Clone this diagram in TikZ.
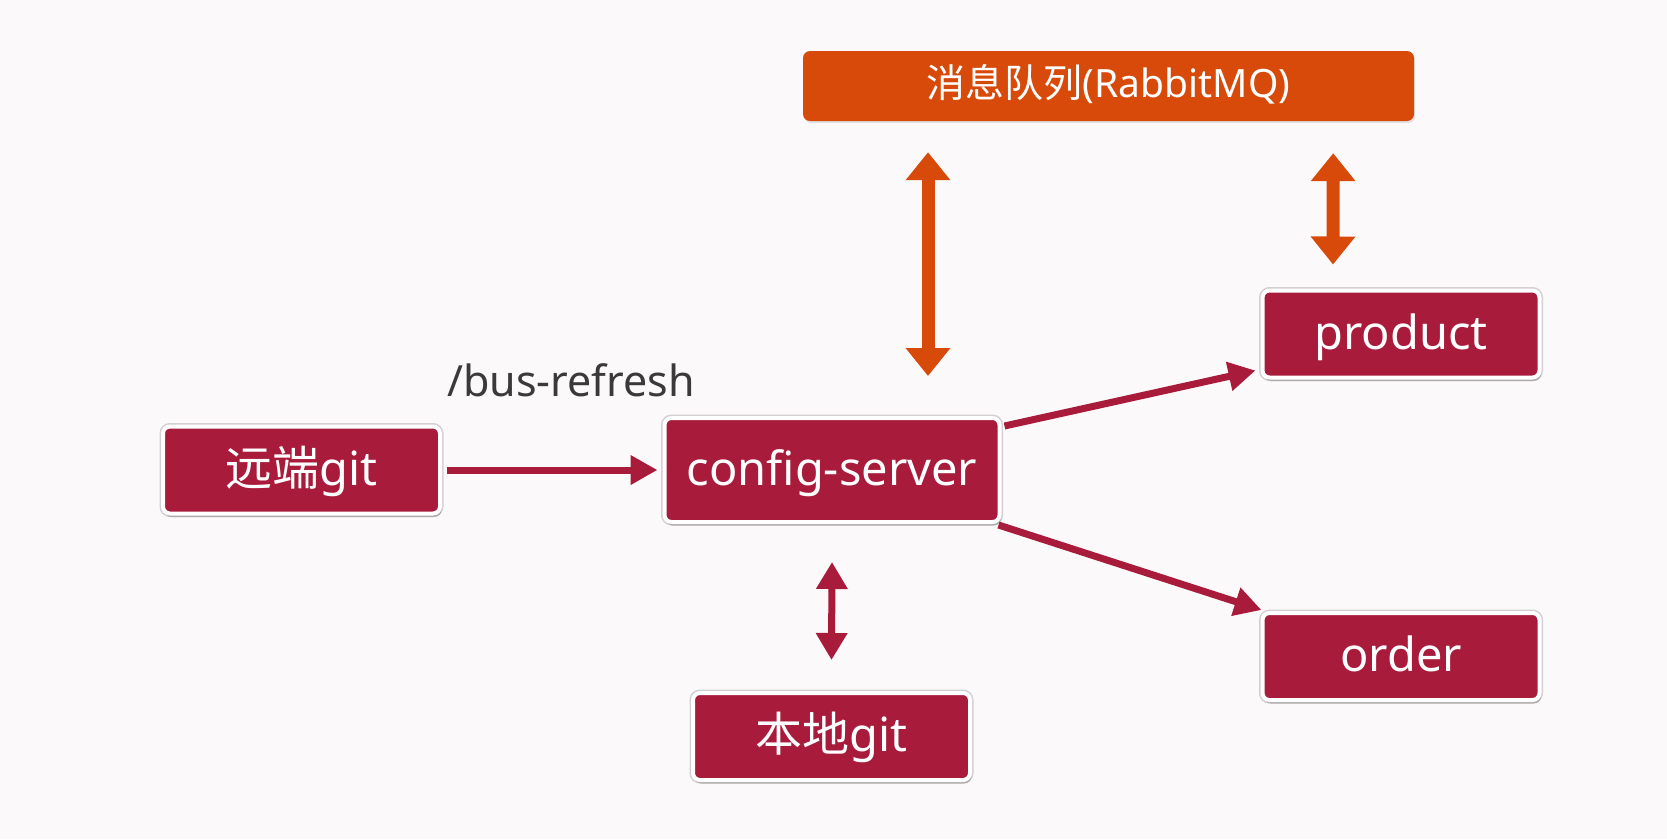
\documentclass[tikz,border=0pt]{standalone}
\usepackage{fontspec}
\setmainfont{Noto Sans}
\newfontfamily\cjk{Noto Sans CJK SC}
\usetikzlibrary{arrows.meta,shadows,calc}
\definecolor{crim}{RGB}{169,27,59}
\definecolor{orng}{RGB}{216,74,10}
\definecolor{bgc}{RGB}{251,249,250}
\definecolor{lbl}{RGB}{58,58,58}
\definecolor{rim}{RGB}{212,207,209}
\tikzset{
  svc/.style={fill=crim, draw=white, line width=4pt, rounded corners=7pt,
    minimum width=277pt, minimum height=87pt, inner sep=0pt,
    text=white, font=\fontsize{47}{56}\selectfont, text height=38pt, text depth=8pt,
    preaction={draw=rim, line width=7pt},
    drop shadow={shadow xshift=1.5pt, shadow yshift=-3.5pt, opacity=0.35, fill=black!60}},
  mqbox/.style={fill=orng, rounded corners=7pt, minimum width=611pt, minimum height=70pt,
    inner sep=0pt, text=white, font=\fontsize{39}{46}\selectfont, text height=31pt, text depth=8pt,
    drop shadow={shadow xshift=1pt, shadow yshift=-2pt, opacity=0.2, fill=black!50}},
  crarrow/.style={draw=crim, line width=7pt, -{Triangle[length=27pt,width=28pt]}},
  crdouble/.style={draw=crim, line width=7pt, {Triangle[length=27pt,width=30pt]}-{Triangle[length=27pt,width=30pt]}},
  ordouble/.style={draw=orng, line width=13pt, {Triangle[length=28pt,width=43pt]}-{Triangle[length=28pt,width=43pt]}},
}
\begin{document}
\begin{tikzpicture}[x=1pt,y=-1pt]
\useasboundingbox (0,0) rectangle (1667,839);
\fill[bgc] (0,0) rectangle (1667,839);

\node[mqbox] (mq) at (1108.5,86) {{\cjk 消息队列}(RabbitMQ)};
\node[svc] (yuan) at (301.5,470) {{\cjk 远端}git};
\node[svc, minimum width=335pt, minimum height=104pt] (config) at (832,470) {config-server};
\node[svc] (product) at (1401,334) {product};
\node[svc] (order) at (1401,656.5) {order};
\node[svc] (local) at (831.5,736.5) {{\cjk 本地}git};
\node[text=lbl, font=\fontsize{43}{52}\selectfont, inner sep=0pt] (bus) at (571,380) {/bus-refresh};

\draw[crarrow] ($(yuan.east)+(5,0)$) -- ($(config.west)+(-5,0)$);
\draw[crarrow] ($(config.north east)+(3,10)$) -- ($(product.south west)+(-5,-9)$);
\draw[crarrow] ($(config.south east)+(-3,1)$) -- ($(order.north west)+(1,-1)$);
\draw[crdouble] ($(config.south)+(0,38)$) -- ($(local.north)+(0,-31)$);
\draw[ordouble] ($(mq.south)+(-180.5,31)$) -- ($(config.north)+(96,-40)$);
\draw[ordouble] ($(mq.south east)+(-81,32)$) -- ($(product.north)+(-68,-24)$);
\end{tikzpicture}
\end{document}
